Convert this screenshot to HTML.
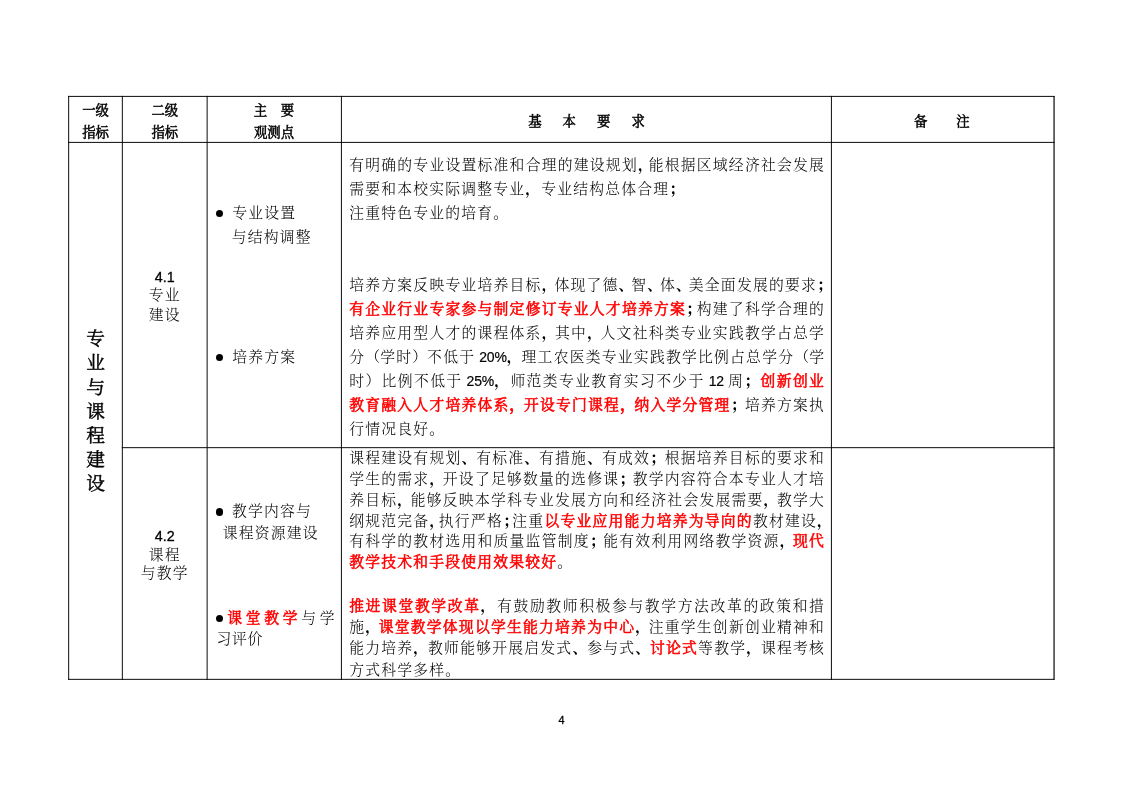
<!DOCTYPE html>
<html lang="zh-CN">
<head>
<meta charset="utf-8">
<title>专业与课程建设</title>
<style>
html,body{margin:0;padding:0;background:#fff;}
body{width:1122px;height:793px;position:relative;overflow:hidden;
 font-family:"Liberation Serif","Noto Serif CJK SC",serif;color:#000;font-weight:300;
}
#page{position:absolute;left:0;top:-0.7px;width:1122px;height:793px;will-change:transform;}
#grid{position:absolute;left:0;top:0;}
.t{position:absolute;white-space:nowrap;margin:0;}
.ln{left:349.2px;width:475.9px;height:24px;line-height:24px;font-size:14.8px;letter-spacing:1.2px;}
.j{text-align:justify;text-align-last:justify;}
.p{font-weight:700;}
.r{color:#f00;font-weight:400;-webkit-text-stroke:0.55px #f00;}
.l{font-family:"Liberation Sans",sans-serif;font-size:14px;letter-spacing:-0.2px;color:#000;font-weight:400;-webkit-text-stroke:0.2px #000;}
.n{font-family:"Liberation Sans",sans-serif;color:#000;font-weight:400;-webkit-text-stroke:0.3px #000;text-align:center;line-height:20px;}
.h{font-size:13.4px;font-weight:400;-webkit-text-stroke:0.5px #000;color:#000;line-height:20px;height:20px;text-align:center;}
.c{font-size:14.8px;letter-spacing:1.2px;line-height:24px;height:24px;}
.v{position:absolute;left:86.25px;width:18.7px;font-size:18.7px;font-weight:400;-webkit-text-stroke:0.45px #000;color:#000;line-height:24.15px;text-align:center;word-break:break-all;}
.dot{position:absolute;width:7.3px;height:7.3px;border-radius:50%;background:#000;}
.sp{display:inline-block;width:21px}.sp2{display:inline-block;width:28.8px}.sp3{display:inline-block;width:13.5px}
</style>
</head>
<body>

<svg id="grid" width="1122" height="793" viewBox="0 0 1122 793" fill="none" stroke="#000" stroke-width="0.96">
<line x1="68.67" y1="95.9" x2="68.67" y2="679.85"/>
<line x1="122.35" y1="95.9" x2="122.35" y2="679.85"/>
<line x1="207.13" y1="95.9" x2="207.13" y2="679.85"/>
<line x1="341.42" y1="95.9" x2="341.42" y2="679.85"/>
<line x1="831.42" y1="95.9" x2="831.42" y2="679.85"/>
<line x1="1054.05" y1="95.9" x2="1054.05" y2="679.85" stroke-width="1.17"/>
<line x1="68.17" y1="96.4" x2="1054.55" y2="96.4"/>
<line x1="68.17" y1="142.4" x2="1054.55" y2="142.4"/>
<line x1="121.85" y1="447.66" x2="1054.55" y2="447.66"/>
<line x1="68.17" y1="679.35" x2="1054.55" y2="679.35"/>
</svg>
<div id="page">
<div class="t h" style="left:35.6px;top:101.7px;width:120px;">一级</div>
<div class="t h" style="left:35.6px;top:124.1px;width:120px;">指标</div>
<div class="t h" style="left:104.8px;top:101.7px;width:120px;">二级</div>
<div class="t h" style="left:104.8px;top:124.1px;width:120px;">指标</div>
<div class="t h" style="left:214px;top:101.7px;width:120px;">主<span class="sp3"></span>要</div>
<div class="t h" style="left:214px;top:124.1px;width:120px;">观测点</div>
<div class="t h" style="left:526.5px;top:112.8px;width:120px;">基<span class="sp"></span>本<span class="sp"></span>要<span class="sp"></span>求</div>
<div class="t h" style="left:881.9px;top:112.8px;width:120px;">备<span class="sp2"></span>注</div>
<div class="v" style="top:328.225px">专业与课程建设</div>
<div class="t n" style="left:122.8px;top:268px;width:84px;font-size:14.3px">4.1</div>
<div class="t c" style="left:122.8px;top:284.2px;width:84px;text-align:center">专业</div>
<div class="t c" style="left:122.8px;top:303.6px;width:84px;text-align:center">建设</div>
<div class="t n" style="left:122.8px;top:527px;width:84px;font-size:14.3px">4.2</div>
<div class="t c" style="left:122.8px;top:543.6px;width:84px;text-align:center">课程</div>
<div class="t c" style="left:122.8px;top:562.1px;width:84px;text-align:center">与教学</div>
<span class="dot" style="left:215.55px;top:210.8px"></span>
<div class="t c" style="left:232.3px;top:202.1px;">专业设置</div>
<div class="t c" style="left:231.7px;top:226.1px;">与结构调整</div>
<span class="dot" style="left:215.55px;top:354.95px"></span>
<div class="t c" style="left:232.3px;top:346.1px;">培养方案</div>
<span class="dot" style="left:215.55px;top:509.3px"></span>
<div class="t c" style="left:232px;top:500.2px;">教学内容与</div>
<div class="t c" style="left:222.7px;top:521.5px;">课程资源建设</div>
<span class="dot" style="left:215.55px;top:615.8px"></span>
<div class="t c" style="left:227.2px;top:606.5px;letter-spacing:3.7px"><b class="r">课堂教学</b>与学</div>
<div class="t c" style="left:216.6px;top:627.8px;letter-spacing:0.6px">习评价</div>
<div class="t ln j" style="top:154.1px">有明确的专业设置标准和合理的建设规划<span class="p" style="margin-right:-5.3px">，</span>能根据区域经济社会发展</div>
<div class="t ln" style="top:178.1px">需要和本校实际调整专业<span class="p">，</span>专业结构总体合理<span class="p">；</span></div>
<div class="t ln" style="top:202.1px">注重特色专业的培育<span class="p">。</span></div>
<div class="t ln j" style="top:274.1px">培养方案反映专业培养目标<span class="p" style="margin-right:-3.33px">，</span>体现了德<span class="p" style="margin-right:-3.33px">、</span>智<span class="p" style="margin-right:-3.33px">、</span>体<span class="p" style="margin-right:-3.33px">、</span>美全面发展的要求<span class="p" style="margin-right:-8px">；</span></div>
<div class="t ln j" style="top:298.1px"><b class="r">有企业行业专家参与制定修订专业人才培养方案</b><span class="p" style="margin-right:-5.3px">；</span>构建了科学合理的</div>
<div class="t ln j" style="top:322.1px">培养应用型人才的课程体系<span class="p" style="margin-right:-2.65px">，</span>其中<span class="p" style="margin-right:-2.65px">，</span>人文社科类专业实践教学占总学</div>
<div class="t ln j" style="top:346.1px">分<span style="margin-right:-1.17px">（</span>学时<span style="margin-right:-1.17px">）</span>不低于<span class="l" style="margin:0 0px 0 4px">20%</span><span class="p" style="margin-right:-1.17px">，</span>理工农医类专业实践教学比例占总学分<span style="margin-right:-1.17px">（</span>学</div>
<div class="t ln j" style="top:370.1px">时）比例不低于<span class="l" style="margin:0 0px 0 4px">25%</span><span class="p">，</span>师范类专业教育实习不少于<span class="l" style="margin:0 4px 0 4px">12</span>周<span class="p">；</span><b class="r">创新创业</b></div>
<div class="t ln j" style="top:394.1px"><b class="r">教育融入人才培养体系<span class="p" style="margin-right:-1.77px">，</span>开设专门课程<span class="p" style="margin-right:-1.77px">，</span>纳入学分管理</b><span class="p" style="margin-right:-1.77px">；</span>培养方案执</div>
<div class="t ln" style="top:418.1px">行情况良好<span class="p">。</span></div>
<div class="t ln j" style="top:447.3px">课程建设有规划<span class="p" style="margin-right:-1.33px">、</span>有标准<span class="p" style="margin-right:-1.33px">、</span>有措施<span class="p" style="margin-right:-1.33px">、</span>有成效<span class="p" style="margin-right:-1.33px">；</span>根据培养目标的要求和</div>
<div class="t ln j" style="top:468.1px">学生的需求<span class="p" style="margin-right:-2.65px">，</span>开设了足够数量的选修课<span class="p" style="margin-right:-2.65px">；</span>教学内容符合本专业人才培</div>
<div class="t ln j" style="top:488.9px">养目标<span class="p" style="margin-right:-2.65px">，</span>能够反映本学科专业发展方向和经济社会发展需要<span class="p" style="margin-right:-2.65px">，</span>教学大</div>
<div class="t ln j" style="top:509.7px">纲规范完备<span class="p" style="margin-right:-6.65px">，</span>执行严格<span class="p" style="margin-right:-6.65px">；</span>注重<b class="r">以专业应用能力培养为导向的</b>教材建设<span class="p" style="margin-right:-8px">，</span></div>
<div class="t ln j" style="top:530.3px">有科学的教材选用和质量监管制度<span class="p" style="margin-right:-2.65px">；</span>能有效利用网络教学资源<span class="p" style="margin-right:-2.65px">，</span><b class="r">现代</b></div>
<div class="t ln" style="top:551.2px"><b class="r">教学技术和手段使用效果较好</b><span class="p">。</span></div>
<div class="t ln j" style="top:594.5px"><b class="r">推进课堂教学改革</b><span class="p">，</span>有鼓励教师积极参与教学方法改革的政策和措</div>
<div class="t ln j" style="top:616.1px">施<span class="p" style="margin-right:-2.65px">，</span><b class="r">课堂教学体现以学生能力培养为中心</b><span class="p" style="margin-right:-2.65px">，</span>注重学生创新创业精神和</div>
<div class="t ln j" style="top:637.3px">能力培养<span class="p" style="margin-right:-1.33px">，</span>教师能够开展启发式<span class="p" style="margin-right:-1.33px">、</span>参与式<span class="p" style="margin-right:-1.33px">、</span><b class="r">讨论式</b>等教学<span class="p" style="margin-right:-1.33px">，</span>课程考核</div>
<div class="t ln" style="top:658.6px">方式科学多样<span class="p">。</span></div>
<div class="t n" style="left:531.5px;top:711px;width:60px;font-size:10.8px">4</div>
</div>
</body>
</html>
